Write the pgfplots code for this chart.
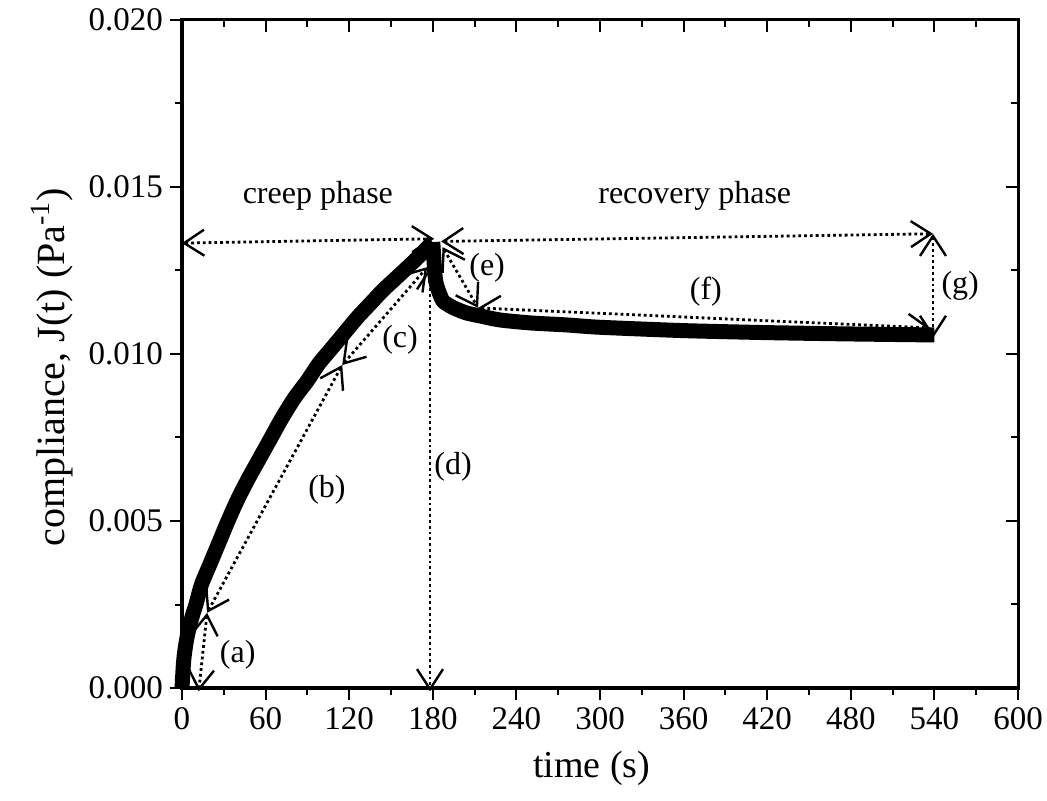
\documentclass[border=0pt]{standalone}
\usepackage{pgfplots}
\pgfplotsset{compat=1.18}
\usepackage{fontspec}
\setmainfont{Liberation Serif}
\usetikzlibrary{arrows.meta}
\begin{document}
\begin{tikzpicture}[>={Straight Barb[length=10pt,width=13pt,line width=1.2pt]}]
\tikzset{ann/.style={line width=1.4pt, dash pattern=on 1.4pt off 1.5pt, <->},
         lab/.style={font=\fontsize{16}{19}\selectfont, inner sep=0pt}}
\begin{axis}[name=ax, scale only axis, width=418pt, height=334pt,
  xmin=0, xmax=600, ymin=0, ymax=0.02, clip=false,
  xtick={0,60,...,600}, minor x tick num=1,
  ytick={0,0.005,0.01,0.015,0.02}, minor y tick num=1,
  scaled y ticks=false,
  yticklabel style={/pgf/number format/.cd, fixed, fixed zerofill, precision=3},
  /pgf/number format/assume math mode=true,
  ticklabel style={font=\fontsize{16.5}{19}\selectfont},
  axis line style={line width=1.5pt},
  tick style={line width=1pt, black},
  major tick length=6pt, minor tick length=3.5pt,
  tick align=outside, xtick pos=left, ytick pos=left,
  xlabel={time (s)}, ylabel={compliance, J(t) (Pa\textsuperscript{-1})},
  xlabel style={font=\fontsize{19}{22}\selectfont, at={(axis description cs:0.49,-0.12)}, anchor=center},
  ylabel style={font=\fontsize{20}{23}\selectfont, at={(axis description cs:-0.1555,0.48)}, anchor=center},
]
% creep phase
\addplot[black, line width=7.5pt, line join=round, line cap=butt, smooth, tension=0.5] coordinates {
(0,0.0000) (1,0.0007) (2,0.0011) (4,0.0016) (7,0.0021) (10,0.0025) (14,0.0031)
(20,0.0037) (27,0.0044) (33,0.0050) (40,0.00565) (48,0.0063) (56,0.0069) (64,0.0075)
(72,0.0081) (81,0.0087) (90,0.0092) (98,0.0097) (106,0.0101) (116,0.0106)
(126,0.0111) (135,0.0115) (144,0.0119) (153,0.01225) (162,0.0126) (170,0.01292)
(176,0.01318) (180,0.01335)
};
% recovery phase
\addplot[black, line width=7.5pt, line join=round, line cap=butt, smooth, tension=0.4] coordinates {
(180,0.01335) (181,0.0127) (182,0.0122) (184,0.0119) (187,0.0116) (190,0.01150)
(195,0.01138) (204,0.01123) (215,0.01113) (228,0.01102) (250,0.01093) (276,0.01087)
(300,0.01080) (360,0.01070) (420,0.01064) (480,0.01060) (540,0.01057)
};
% annotations
\draw[ann] (18,0.00225) -- (12,-0.0001);
\draw[ann] (18,0.00225) -- (115,0.00967);
\draw[ann] (115,0.00967) -- (176,0.0126);
\draw[ann] (178,0.0126) -- (178,-0.0001);
\draw[ann] (0,0.01332) -- (181,0.01345);
\draw[ann] (186,0.01337) -- (539,0.0136);
\draw[ann] (539,0.0136) -- (539,0.01048);
\draw[ann] (187,0.0132) -- (212.5,0.01138);
\draw[ann] (212.5,0.01138) -- (537,0.01078);
\node[lab] at (97.5,0.01473) {creep phase};
\node[lab] at (368,0.01473) {recovery phase};
\node[lab] at (40,0.00099) {(a)};
\node[lab] at (104,0.00593) {(b)};
\node[lab] at (156.5,0.01042) {(c)};
\node[lab] at (194.5,0.00662) {(d)};
\node[lab] at (219,0.01257) {(e)};
\node[lab] at (376,0.01186) {(f)};
\node[lab] at (558.5,0.01204) {(g)};
\end{axis}
\begin{axis}[scale only axis, width=418pt, height=334pt,
  xmin=0, xmax=600, ymin=0, ymax=0.02,
  xtick={0,60,...,600}, minor x tick num=1,
  ytick={0,0.005,0.01,0.015,0.02}, minor y tick num=1,
  scaled x ticks=false, scaled y ticks=false,
  xticklabels={}, yticklabels={},
  axis line style={line width=1.5pt},
  tick style={line width=1pt, black},
  major tick length=6pt, minor tick length=3.5pt,
  tick align=inside, xtick pos=right, ytick pos=right]
\end{axis}
\pgfresetboundingbox
\path[use as bounding box] ([xshift=-91pt,yshift=-56.5pt]ax.south west) rectangle ([xshift=14.5pt,yshift=10pt]ax.north east);
\end{tikzpicture}
\end{document}
